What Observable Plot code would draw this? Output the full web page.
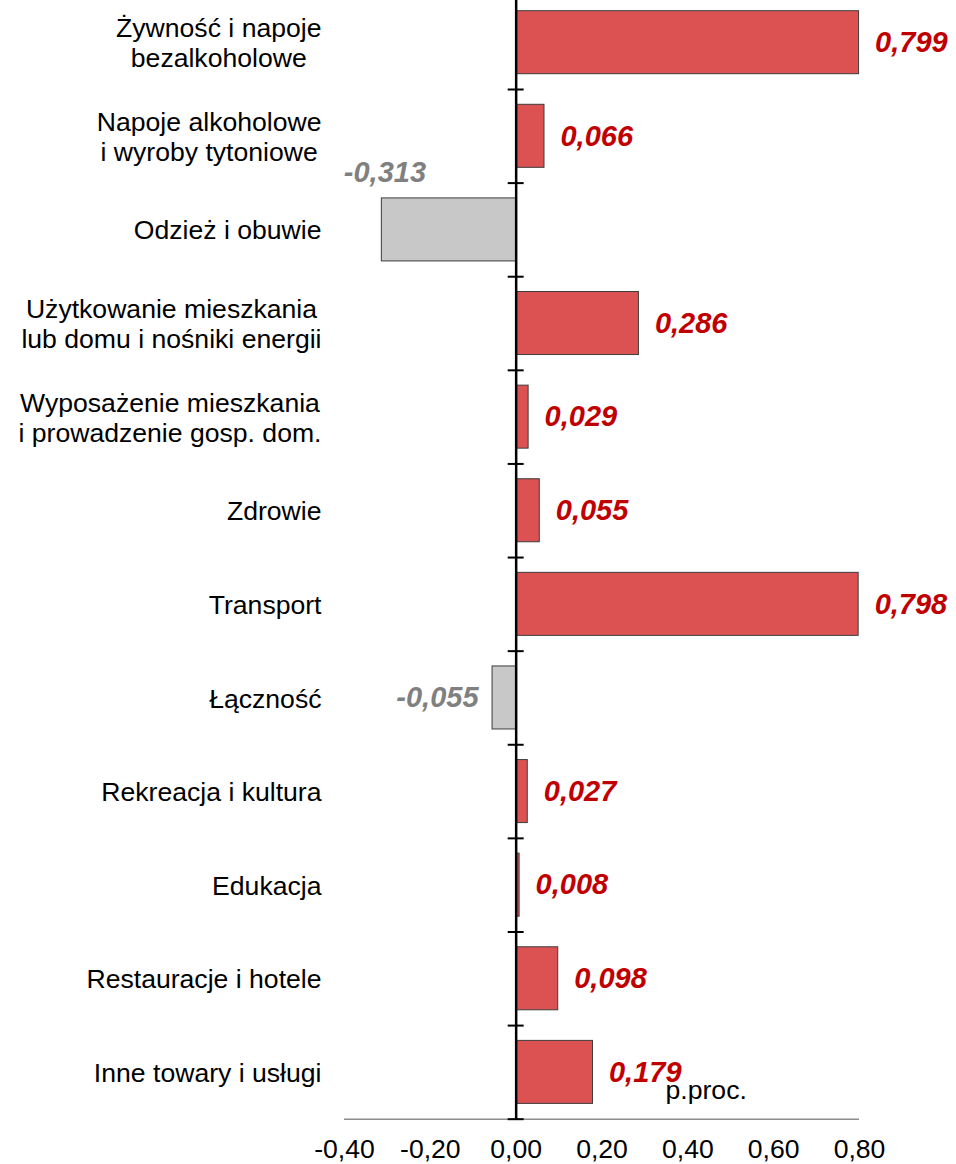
<!DOCTYPE html>
<html>
<head>
<meta charset="utf-8">
<script src="https://cdn.jsdelivr.net/npm/d3@7"></script>
<script src="https://cdn.jsdelivr.net/npm/@observablehq/plot@0.6"></script>
<style>
  html, body { margin: 0; padding: 0; background: #fff; }
</style>
</head>
<body>
<div id="chart"></div>
<script>
const categories = [
  "Żywność i napoje\nbezalkoholowe",
  "Napoje alkoholowe\ni wyroby tytoniowe",
  "Odzież i obuwie",
  "Użytkowanie mieszkania\nlub domu i nośniki energii",
  "Wyposażenie mieszkania\ni prowadzenie gosp. dom.",
  "Zdrowie",
  "Transport",
  "Łączność",
  "Rekreacja i kultura",
  "Edukacja",
  "Restauracje i hotele",
  "Inne towary i usługi"
];
const values = [0.799, 0.066, -0.313, 0.286, 0.029, 0.055, 0.798, -0.055, 0.027, 0.008, 0.098, 0.179];
const xTicks = [-0.4, -0.2, 0, 0.2, 0.4, 0.6, 0.8];
const unitLabel = "p.proc.";

const data = categories.map((c, i) => ({cat: c, value: values[i]}));
const fmt = (d, n) => d.toFixed(n).replace(".", ",");

const FONT = "'Liberation Sans', Arial, Helvetica, sans-serif";
const RED = "#dc5252", GRAY = "#c8c8c8";
const CAT_SIZE = 26.6;

// measure category label widths to center the lines of each label block
const ctx = document.createElement("canvas").getContext("2d");
ctx.font = CAT_SIZE + "px 'Liberation Sans'";
const widthOf = s => Math.max(...s.split("\n").map(l => ctx.measureText(l).width));

const band = 93.6;
const inset = 15.3;

const catMarks = categories.map(c => Plot.text([c], {
  y: d => d, text: d => d, frameAnchor: "left", textAnchor: "middle",
  dx: -(23 + widthOf(c) / 2), fontSize: CAT_SIZE, lineHeight: 1.12, fill: "black"
}));

const pos = data.filter(d => d.value >= 0);
const negNear = data.filter(d => d.value < 0 && d.value > -0.2);
const negFar = data.filter(d => d.value <= -0.2);

const chart = Plot.plot({
  width: 956,
  height: 1164,
  marginLeft: 344,
  marginRight: 97,
  marginTop: 0,
  marginBottom: 45,
  style: {fontFamily: FONT, fontSize: "26px", color: "black", background: "white"},
  x: {domain: [-0.4, 0.8], label: null},
  y: {domain: categories, range: [-4.6, 1118.7], padding: 0, round: false, axis: null},
  marks: [
    Plot.ruleY([categories[categories.length - 1]], {dy: band / 2, x1: -0.4, x2: 0.8, stroke: "#8c8c8c", strokeWidth: 1.6}),
    Plot.barX(data, {
      x: "value", y: "cat",
      fill: d => d.value >= 0 ? RED : GRAY,
      stroke: "#3c3c3c", strokeWidth: 1,
      insetTop: inset, insetBottom: inset
    }),
    Plot.ruleX([0], {stroke: "black", strokeWidth: 2.5}),
    Plot.ruleY(categories, {y: d => d, dy: band / 2, x1: -0.0186, x2: 0.0186, stroke: "black", strokeWidth: 2}),
    Plot.text(pos, {x: "value", y: "cat", text: d => fmt(d.value, 3), textAnchor: "start", dx: 16,
      fill: "#c00000", fontSize: 29, fontWeight: "bold", fontStyle: "italic"}),
    Plot.text(negNear, {x: "value", y: "cat", text: d => fmt(d.value, 3), textAnchor: "end", dx: -14,
      fill: "#808080", fontSize: 29, fontWeight: "bold", fontStyle: "italic"}),
    Plot.text(negFar, {x: "value", y: "cat", text: d => fmt(d.value, 3), textAnchor: "start", dx: -38, dy: -57,
      fill: "#808080", fontSize: 29, fontWeight: "bold", fontStyle: "italic"}),
    Plot.text([unitLabel], {x: 0.348, y: () => categories[categories.length - 1], text: d => d,
      textAnchor: "start", dy: 18, fontSize: CAT_SIZE, fill: "black"}),
    ...catMarks,
    Plot.axisX({ticks: xTicks, tickFormat: d => fmt(d, 2), tickSize: 0, tickPadding: 20, fontSize: CAT_SIZE, anchor: "bottom", label: null})
  ]
});
document.getElementById("chart").appendChild(chart);
</script>
</body>
</html>
